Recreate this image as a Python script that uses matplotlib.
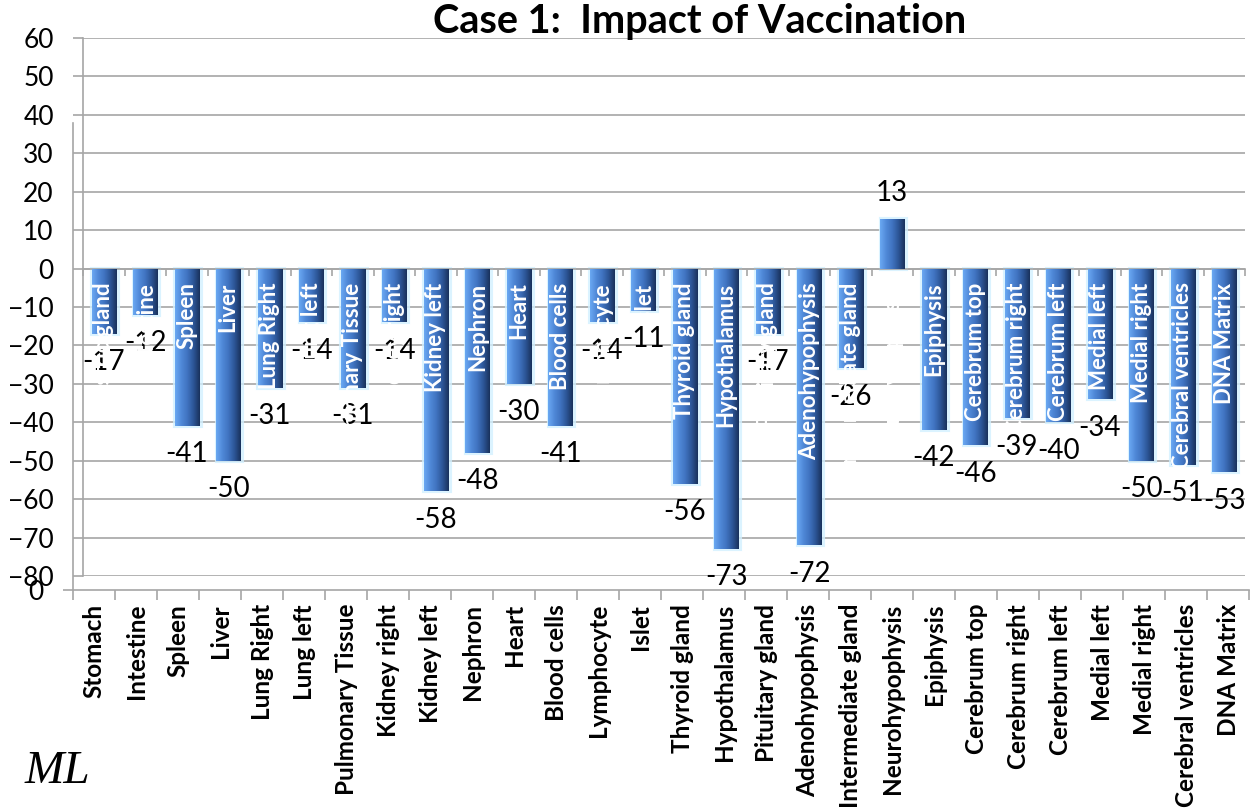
import matplotlib.pyplot as plt
import numpy as np
from matplotlib.colors import LinearSegmentedColormap

categories = ['Stomach', 'Intestine', 'Spleen', 'Liver', 'Lung Right', 'Lung left',
              'Pulmonary Tissue', 'Kidney right', 'Kidney left', 'Nephron', 'Heart',
              'Blood cells', 'Lymphocyte', 'Islet', 'Thyroid gland', 'Hypothalamus',
              'Pituitary gland', 'Adenohypophysis', 'Intermediate gland', 'Neurohypophysis',
              'Epiphysis', 'Cerebrum top', 'Cerebrum right', 'Cerebrum left', 'Medial left',
              'Medial right', 'Cerebral ventricles', 'DNA Matrix']
# names written inside the bars (white)
inner_labels = ['Gastric gland'] + categories[1:]
values = [-17, -12, -41, -50, -31, -14, -31, -14, -58, -48, -30, -41, -14, -11, -56,
          -73, -17, -72, -26, 13, -42, -46, -39, -40, -34, -50, -51, -53]

plt.rcParams['font.family'] = ['Lato', 'DejaVu Sans']

W, H = 1257, 811
fig = plt.figure(figsize=(W / 100, H / 100), dpi=100)
grey = '#a6a6a6'

# outer (empty) chart frame that carries the category axis
ax2 = fig.add_axes([73 / W, 1 - 590 / H, (1249 - 73) / W, (590 - 123) / H])
n = len(categories)
ax2.set_xlim(0, n)
ax2.set_ylim(0, 1)
ax2.set_xticks(np.arange(n + 1))
ax2.set_xticklabels([])
ax2.set_xticks(np.arange(n) + 0.5, minor=True)
ax2.set_xticklabels(categories, minor=True, rotation=90, fontsize=17.5,
                    fontweight='bold', va='top', ha='center')
ax2.tick_params(axis='x', which='major', length=7, color=grey, width=1.2)
ax2.tick_params(axis='x', which='minor', length=0, pad=10)
ax2.set_yticks([0])
ax2.set_yticklabels(['0'], fontsize=19)
ax2.tick_params(axis='y', length=7, color=grey, width=1.2, pad=14)
for s in ['top', 'right']:
    ax2.spines[s].set_visible(False)
for s in ['left', 'bottom']:
    ax2.spines[s].set_color(grey)
    ax2.spines[s].set_linewidth(1.2)

# main chart
ax = fig.add_axes([83 / W, 1 - 576 / H, 1162 / W, 538 / H])
ax.patch.set_alpha(0)
x = np.arange(n) + 0.5
glow = ax.bar(x + 0.03, values, width=0.62, color='none', edgecolor='#d2f0ff',
              linewidth=3, alpha=0.8, zorder=2)
bars = ax.bar(x, values, width=0.58, color='#4a7fcc', linewidth=0, zorder=3)

cmap = LinearSegmentedColormap.from_list(
    'bevel', ['#6aa8f2', '#5089d8', '#4073c0', '#2c5596', '#1a325c'])
grad = np.linspace(0, 1, 64).reshape(1, -1)
for b in bars:
    x0 = b.get_x()
    y0 = b.get_y()
    h = b.get_height()
    im = ax.imshow(grad, cmap=cmap, aspect='auto', zorder=3.5,
                   extent=[x0, x0 + b.get_width(), min(y0, y0 + h), max(y0, y0 + h)])
    im.set_clip_path(b)

for xi, v in zip(x, values):
    if v < 0:
        ax.annotate(str(v), (xi, v), xytext=(0, -11), textcoords='offset points',
                    ha='center', va='top', fontsize=20, zorder=4)
    else:
        ax.annotate(str(v), (xi, v), xytext=(0, 9), textcoords='offset points',
                    ha='center', va='bottom', fontsize=20, zorder=4)

for xi, name in zip(x, inner_labels):
    ax.annotate(name, (xi, 0), xytext=(0, -10), textcoords='offset points',
                rotation=90, ha='center', va='top', color='white',
                fontweight='bold', fontsize=16, zorder=5)

ax.set_xlim(0, n)
ax.set_ylim(-80, 60)
ax.set_yticks(np.arange(-80, 61, 10))
ax.tick_params(axis='y', labelsize=19, length=7, color=grey, width=1.2, pad=14)
ax.yaxis.grid(True, color=grey, linewidth=1.2)
ax.set_axisbelow(True)
ax.set_xticks(np.arange(n + 1))
ax.set_xticklabels([])
ax.tick_params(axis='x', length=5, color=grey, width=1.2)
ax.spines['bottom'].set_position(('data', 0))
ax.spines['bottom'].set_color(grey)
ax.spines['bottom'].set_linewidth(1.2)
ax.spines['left'].set_color(grey)
ax.spines['left'].set_linewidth(1.2)
ax.spines['top'].set_visible(False)
ax.spines['right'].set_visible(False)

fig.text(700 / W, 1 - 22 / H, 'Case 1:  Impact of Vaccination', ha='center',
         va='center', fontsize=28.5, fontweight='bold')
fig.text(25 / W, 1 - 772 / H, 'ML', ha='left', va='center', fontsize=34,
         fontstyle='italic', family='Liberation Serif')

fig.savefig('out.png', dpi=100)
